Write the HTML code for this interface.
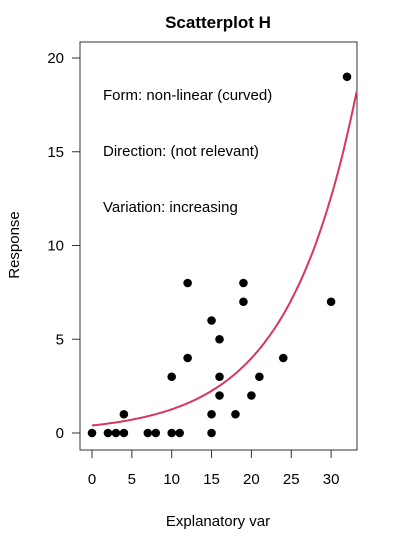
<!DOCTYPE html>
<html><head><meta charset="utf-8"><style>
body{margin:0;background:#fff}
svg{display:block;font-family:"Liberation Sans",Arial,sans-serif}
</style></head><body>
<svg id="chart" width="400" height="550" viewBox="0 0 400 550">
<text x="218" y="28" text-anchor="middle" font-size="17" font-weight="bold">Scatterplot H</text>
<rect x="80" y="42" width="277" height="408" fill="none" stroke="#333" stroke-width="1"/>
<text x="218" y="526" text-anchor="middle" font-size="15">Explanatory var</text>
<text transform="translate(19,245) rotate(-90)" text-anchor="middle" font-size="15">Response</text>
<text x="103" y="100" font-size="15">Form: non-linear (curved)</text>
<text x="103" y="156" font-size="15">Direction: (not relevant)</text>
<text x="103" y="212" font-size="15">Variation: increasing</text>
<g id="axes"></g><g id="curve"></g><g id="points"></g>
</svg>
<script>
const xVals=[0,2,3,4,7,8,10,11,15,4,15,18,16,20,10,16,21,12,24,16,15,19,30,12,19,32];
const yVals=[0,0,0,0,0,0,0,0,0,1,1,1,2,2,3,3,3,4,4,5,6,7,7,8,8,19];
const xTicks=[0,5,10,15,20,25,30];
const yTicks=[0,5,10,15,20];
const curveA=0.4, curveB=0.115;
const sx=v=>92+v*7.97, sy=v=>433-v*18.75;
const ns="http://www.w3.org/2000/svg";
function mk(t,a,p){const e=document.createElementNS(ns,t);for(const k in a)e.setAttribute(k,a[k]);p.appendChild(e);return e;}
const ax=document.getElementById('axes');
xTicks.forEach(t=>{
 const l=mk('line',{x1:sx(t),x2:sx(t),y1:450,y2:458,stroke:'#333'},ax);
 
 
 const tx=mk('text',{x:sx(t),y:484,'text-anchor':'middle','font-size':15},ax);tx.textContent=t;
 
 
});
mk('line',{x1:sx(0),x2:sx(30),y1:450,y2:450,stroke:'#333'},ax);
yTicks.forEach(t=>{
 const l=mk('line',{x1:72,x2:80,y1:sy(t),y2:sy(t),stroke:'#333'},ax);
 
 
 const tx=mk('text',{x:64,y:sy(t)+5,'text-anchor':'end','font-size':15},ax);tx.textContent=t;
 
 
});
let d='';
for(let x=0;x<=33.3;x+=0.2){const y=curveA*Math.exp(curveB*x);d+=(d?'L':'M')+sx(x).toFixed(1)+','+sy(y).toFixed(1);}
const cp=mk('path',{d:d,fill:'none',stroke:'#d6375a','stroke-width':2},document.getElementById('curve'));


const pg=document.getElementById('points');
xVals.forEach((x,i)=>{
 const c=mk('circle',{cx:sx(x),cy:sy(yVals[i]),r:4.3,fill:'#000'},pg);
 
 
});
</script>
</body></html>
